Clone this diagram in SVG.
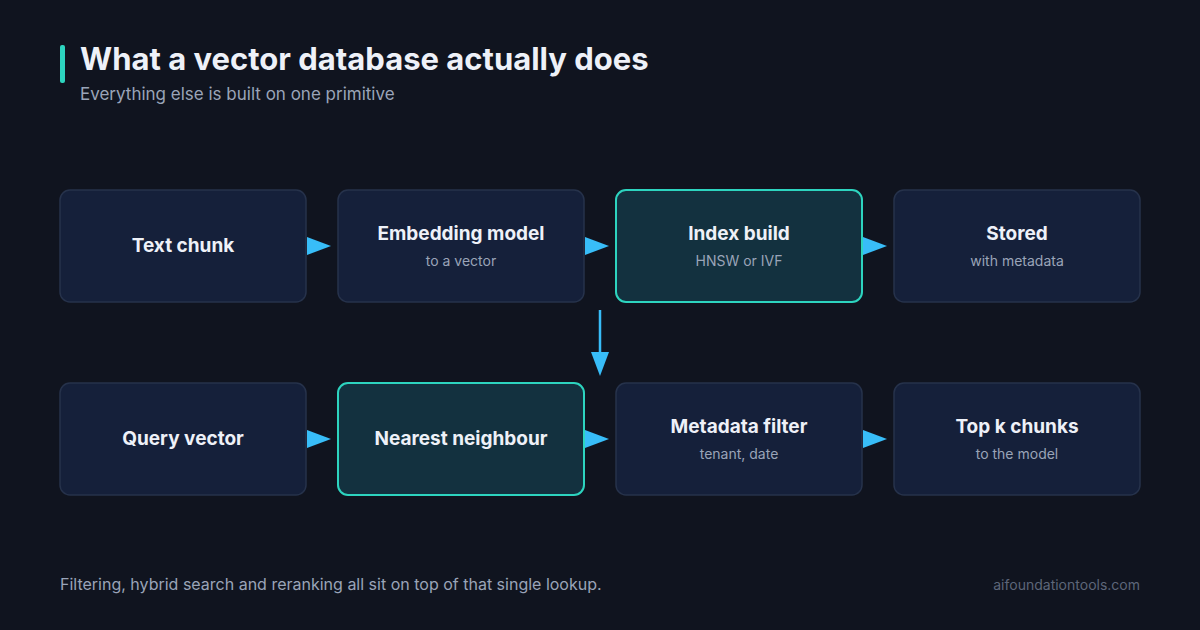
<svg xmlns="http://www.w3.org/2000/svg" width="1200" height="630" viewBox="0 0 1200 630">
<style>
.bx{fill:#15203a;stroke:#26324b;stroke-width:1.5}
.hl{fill:#13313f;stroke:#2dd4bf;stroke-width:2}
.t{font-family:Inter,"Liberation Sans",sans-serif;font-weight:700;font-size:19px;fill:#eef1f8;text-anchor:middle}
.s{font-family:Inter,"Liberation Sans",sans-serif;font-size:14px;fill:#9aa4b8;text-anchor:middle}
.ar{fill:#38bdf8}
</style>
<rect width="1200" height="630" fill="#10141f"/>
<rect x="60" y="45" width="5" height="38" rx="2" fill="#2dd4bf"/>
<text x="80" y="70" font-family="Inter,'Liberation Sans',sans-serif" font-weight="700" font-size="31" fill="#eef1f8">What a vector database actually does</text>
<text x="80" y="100" font-family="Inter,'Liberation Sans',sans-serif" font-size="17" fill="#9aa4b8">Everything else is built on one primitive</text>
<g id="connectors">
<polygon class="ar" points="307,237 331,246 307,255"/>
<polygon class="ar" points="585,237 609,246 585,255"/>
<polygon class="ar" points="863,237 887,246 863,255"/>
<line x1="600" y1="310" x2="600" y2="355" stroke="#38bdf8" stroke-width="2.5"/>
<polygon class="ar" points="591,352 609,352 600,376"/>
<polygon class="ar" points="307,430 331,439 307,448"/>
<polygon class="ar" points="585,430 609,439 585,448"/>
<polygon class="ar" points="863,430 887,439 863,448"/>
</g>
<g id="n1"><rect class="bx" x="60" y="190" width="246" height="112" rx="10"/><text class="t" x="183" y="252">Text chunk</text></g>
<g id="n2"><rect class="bx" x="338" y="190" width="246" height="112" rx="10"/><text class="t" x="461" y="240">Embedding model</text><text class="s" x="461" y="266">to a vector</text></g>
<g id="n3"><rect class="hl" x="616" y="190" width="246" height="112" rx="10"/><text class="t" x="739" y="240">Index build</text><text class="s" x="739" y="266">HNSW or IVF</text></g>
<g id="n4"><rect class="bx" x="894" y="190" width="246" height="112" rx="10"/><text class="t" x="1017" y="240">Stored</text><text class="s" x="1017" y="266">with metadata</text></g>
<g id="n5"><rect class="bx" x="60" y="383" width="246" height="112" rx="10"/><text class="t" x="183" y="445">Query vector</text></g>
<g id="n6"><rect class="hl" x="338" y="383" width="246" height="112" rx="10"/><text class="t" x="461" y="445">Nearest neighbour</text></g>
<g id="n7"><rect class="bx" x="616" y="383" width="246" height="112" rx="10"/><text class="t" x="739" y="433">Metadata filter</text><text class="s" x="739" y="459">tenant, date</text></g>
<g id="n8"><rect class="bx" x="894" y="383" width="246" height="112" rx="10"/><text class="t" x="1017" y="433">Top k chunks</text><text class="s" x="1017" y="459">to the model</text></g>
<text x="60" y="590" font-family="Inter,'Liberation Sans',sans-serif" font-size="16" fill="#9aa4b8">Filtering, hybrid search and reranking all sit on top of that single lookup.</text>
<text x="1140" y="590" text-anchor="end" font-family="Inter,'Liberation Sans',sans-serif" font-size="14" fill="#5d6679">aifoundationtools.com</text>
</svg>
